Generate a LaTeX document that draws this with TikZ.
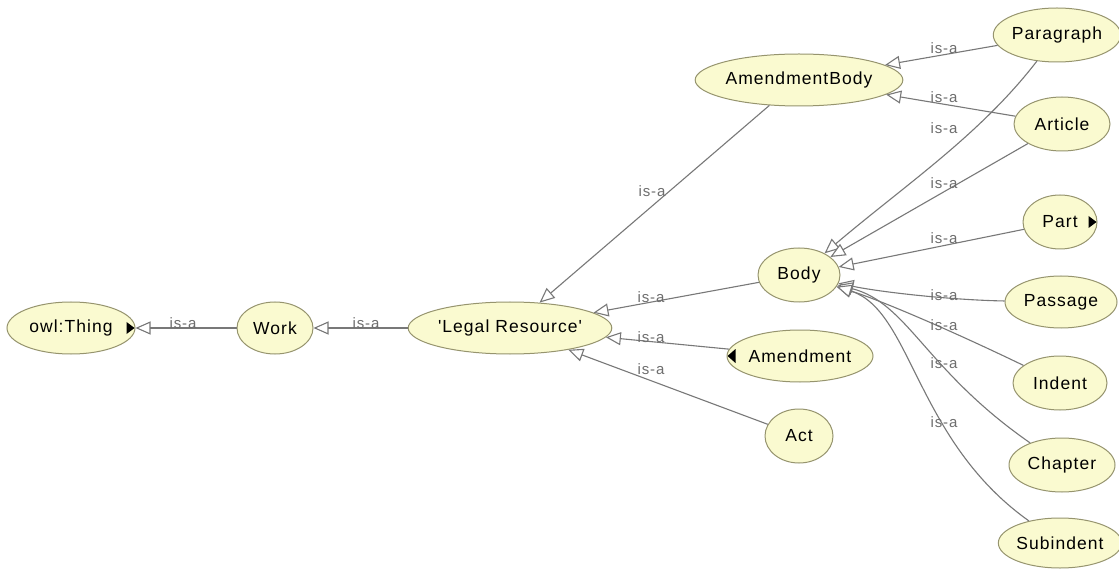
\documentclass[tikz,border=0pt]{standalone}
\usepackage{fontspec}
\usetikzlibrary{shapes.geometric,arrows.meta,calc}
\newfontfamily\nodefont{Liberation Sans}[LetterSpace=6]
\definecolor{nodefill}{RGB}{250,250,208}
\definecolor{nodeline}{RGB}{150,148,110}
\definecolor{edgecol}{RGB}{120,120,120}
\definecolor{labcol}{RGB}{110,110,110}
\tikzset{
 cls/.style={ellipse, draw=nodeline, fill=nodefill, line width=1pt, inner sep=0pt, font=\nodefont\fontsize{17.5}{20}\selectfont},
 isa/.style={draw=edgecol, line width=1.1pt, -{Triangle[length=15pt,width=13pt,fill=white]}},
 lab/.style={text=labcol, inner sep=0pt, font=\nodefont\fontsize{15}{17}\selectfont},
 tri/.style={fill=black}
}
\begin{document}
\begin{tikzpicture}[x=1pt,y=-1pt]
\useasboundingbox[fill=white] (0,0) rectangle (1119,569);
% nodes
\node[cls, minimum width=128pt, minimum height=52pt] (thing) at (71,328) {owl:Thing};
\node[cls, minimum width=76pt, minimum height=52pt] (work) at (275,328) {Work};
\node[cls, minimum width=184pt, minimum height=52pt] (legal) at (510,328) {'Legal Resource'};
\node[cls, minimum width=192pt, minimum height=52pt] (ambody) at (799,80) {AmendmentBody};
\node[cls, minimum width=82pt, minimum height=54pt] (body) at (799,275) {Body};
\node[cls, minimum width=146pt, minimum height=52pt] (amend) at (800,356) {Amendment};
\node[cls, minimum width=68pt, minimum height=54pt] (act) at (799,436) {Act};
\node[cls, minimum width=120pt, minimum height=54pt] (para) at (1057,35) {Paragraph};
\node[cls, minimum width=96pt, minimum height=54pt] (article) at (1062,124) {Article};
\node[cls, minimum width=74pt, minimum height=54pt] (part) at (1060,222) {Part};
\node[cls, minimum width=112pt, minimum height=52pt] (passage) at (1061,302) {Passage};
\node[cls, minimum width=94pt, minimum height=54pt] (indent) at (1060,383) {Indent};
\node[cls, minimum width=106pt, minimum height=54pt] (chapter) at (1062,465) {Chapter};
\node[cls, minimum width=120pt, minimum height=50pt] (subindent) at (1060,543) {Subindent};
% expand markers
\fill[tri] ($(thing.east)+(-9,-6)$) -- ++(8,6) -- ++(-8,6) -- cycle;
\fill[tri] ($(part.east)+(-9,-6)$) -- ++(8,6) -- ++(-8,6) -- cycle;
\fill[tri] ($(amend.west)+(1,0)$) -- ++(8,-7) -- ++(0,14) -- cycle;
% edges
\draw[isa] (work) -- (thing);
\draw[isa] (legal) -- (work);
\draw[isa] (ambody) -- (legal);
\draw[isa] (body) -- (legal);
\draw[isa] (amend) -- (legal);
\draw[isa] (act) -- (legal);
\draw[isa] (para) -- (ambody);
\draw[isa] (article) -- (ambody);
\draw[isa] (para) .. controls (980,135) and (905,185) .. (body);
\draw[isa] (article) -- (body);
\draw[isa] (part) -- (body);
\draw[isa] (passage) .. controls (950,300) and (880,292) .. (body);
\draw[isa] (indent) .. controls (950,330) and (880,300) .. (body);
\draw[isa] (chapter) .. controls (925,370) and (908,303) .. (body);
\draw[isa] (subindent) .. controls (915,440) and (912,310) .. (body);
% labels
\node[lab] (l1) at (183,323) {is-a};
\node[lab] (l2) at (366,323) {is-a};
\node[lab] (l3) at (652,191) {is-a};
\node[lab] (l4) at (651,297) {is-a};
\node[lab] (l5) at (651,337) {is-a};
\node[lab] (l6) at (651,369) {is-a};
\node[lab] (l7) at (944,48) {is-a};
\node[lab] (l8) at (944,97) {is-a};
\node[lab] (l9) at (944,128) {is-a};
\node[lab] (l10) at (944,183) {is-a};
\node[lab] (l11) at (944,238) {is-a};
\node[lab] (l12) at (944,295) {is-a};
\node[lab] (l13) at (944,325) {is-a};
\node[lab] (l14) at (944,363) {is-a};
\node[lab] (l15) at (944,422) {is-a};
\end{tikzpicture}
\end{document}
